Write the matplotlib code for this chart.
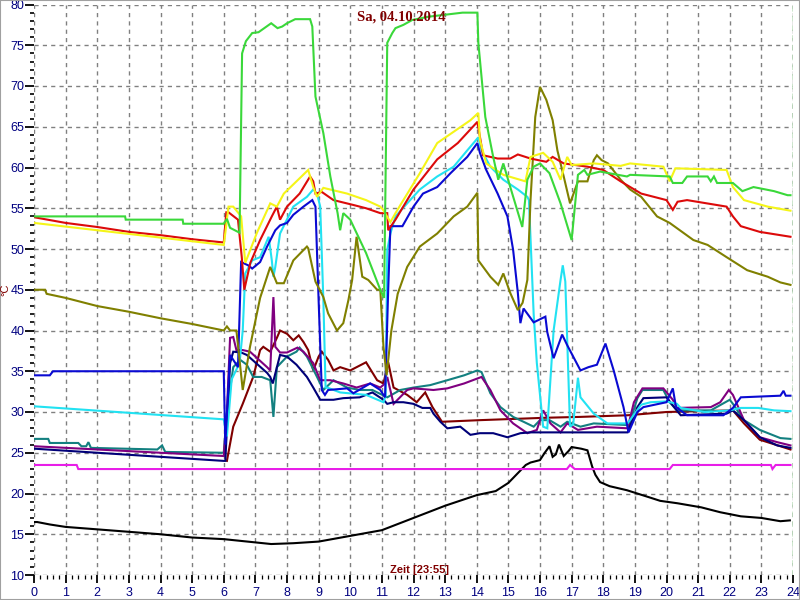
import matplotlib
matplotlib.use("Agg")
import matplotlib.pyplot as plt
from matplotlib.patches import Rectangle

# (hour, temperature) pairs
green = [(0, 54), (2.88, 54), (2.9, 53.6), (4.7, 53.6), (4.72, 53.1), (6.0, 53.1), (6.1, 53.7),
         (6.2, 52.6), (6.5, 52), (6.58, 74), (6.7, 75.5), (6.9, 76.5), (7.1, 76.6), (7.5, 77.7),
         (7.7, 77.1), (7.85, 77.3), (8.0, 77.7), (8.26, 78.2), (8.73, 78.2), (8.8, 77.3), (8.9, 68.7),
         (9.15, 64.2), (9.37, 58.9), (9.6, 54.4), (9.68, 52.3), (9.78, 54.4), (10.0, 53.6), (10.5, 49.5),
         (10.95, 45), (11.07, 44), (11.17, 75.3), (11.33, 76.5), (11.43, 77.1), (11.68, 77.5),
         (11.96, 78.1), (12.47, 78.5), (13.55, 79), (14.02, 79), (14.05, 75.3), (14.27, 66.2),
         (14.52, 61.3), (14.68, 58.5), (14.84, 60.5), (15.06, 57.6), (15.44, 52.7), (15.6, 58.5),
         (15.8, 60.1), (16.0, 60.5), (16.3, 59.3), (16.65, 55.6), (17.0, 51.1), (17.2, 59.1),
         (17.4, 59.7), (17.5, 59.1), (17.9, 59.5), (18.75, 58.9), (18.85, 59.1), (20.1, 58.9),
         (20.2, 58.1), (20.5, 58.1), (20.65, 58.9), (21.3, 58.9), (21.4, 58.3), (21.5, 58.9),
         (21.6, 58.1), (22.1, 58.1), (22.4, 57.1), (22.75, 57.6), (23.4, 57.1), (23.83, 56.6), (23.92, 56.6)]

yellow = [(0, 53.2), (6.0, 50.5), (6.05, 52), (6.15, 55.2), (6.3, 55.2), (6.55, 54), (6.68, 48.3),
          (7.05, 52), (7.47, 55.6), (7.68, 55.2), (7.9, 56.8), (8.3, 58.3), (8.67, 59.7), (8.83, 57.6),
          (8.95, 56.4), (9.15, 57.5), (9.9, 56.8), (10.5, 56), (10.95, 55.2), (11.04, 54.8),
          (11.27, 53.3), (11.43, 54.4), (11.68, 56), (12.2, 59.3), (12.75, 63), (13.2, 64.2),
          (13.8, 65.8), (14.05, 66.7), (14.1, 63.4), (14.3, 60.5), (14.84, 59.1), (15.54, 58.3),
          (15.7, 61.3), (16.1, 61.8), (16.4, 60.7), (16.65, 58.5), (16.86, 61.3), (17.0, 60.3),
          (17.7, 60.5), (18.55, 60.2), (18.85, 60.5), (19.9, 60.1), (20.1, 58.3), (20.28, 59.9),
          (21.9, 59.7), (22.1, 57.6), (22.45, 56), (23.2, 55.2), (23.92, 54.7)]

red = [(0, 53.9), (1, 53.2), (2, 52.7), (3, 52.1), (4, 51.7), (5, 51.2), (6.0, 50.8), (6.08, 54.5),
       (6.15, 54.5), (6.45, 53.6), (6.57, 49), (6.65, 45), (6.84, 48.3), (7.15, 51.1), (7.52, 54),
       (7.68, 55.2), (7.78, 53.6), (8.0, 55.2), (8.4, 56.8), (8.73, 58.9), (8.83, 58.3), (8.9, 56.8),
       (9.1, 57), (9.47, 56), (10.1, 55.4), (10.5, 55), (10.95, 54.4), (11.17, 54.4), (11.2, 52.3),
       (11.43, 53.6), (12.0, 57.3), (12.75, 61), (13.4, 63), (14.02, 65.6), (14.2, 61.5),
       (14.66, 61.1), (15.06, 61.1), (15.3, 61.6), (15.7, 61.1), (16.2, 60.7), (16.4, 61.3),
       (16.75, 60.5), (17.5, 60.1), (18.0, 59.7), (18.55, 58.3), (19.2, 56.8), (19.8, 56.2),
       (20.0, 56), (20.2, 54.8), (20.35, 55.8), (20.65, 56), (21.9, 55.2), (22.1, 54), (22.35, 52.8),
       (22.95, 52.1), (23.92, 51.5)]

olive = [(0, 45), (0.35, 45), (0.4, 44.5), (1.0, 44), (2.0, 43), (3.0, 42.3), (4.0, 41.5), (5.0, 40.8),
         (6.0, 40), (6.1, 40.5), (6.2, 40), (6.4, 40), (6.6, 32.7), (6.83, 38), (7.15, 44), (7.47, 47.8),
         (7.68, 45.8), (7.9, 45.8), (8.2, 48.6), (8.63, 50.3), (8.67, 50.1), (8.9, 46), (9.15, 44.1),
         (9.3, 42.1), (9.58, 40), (9.78, 40.9), (9.94, 43.7), (10.06, 46.2), (10.2, 51.5), (10.38, 46.6),
         (10.57, 46.2), (10.85, 45), (10.95, 45), (11.05, 38), (11.15, 34.5), (11.3, 40), (11.5, 44.5),
         (11.8, 47.8), (12.2, 50.3), (12.75, 51.9), (13.27, 54), (13.7, 55.2), (14.02, 56.9),
         (14.05, 48.6), (14.43, 46.6), (14.68, 45.6), (14.84, 47), (15.06, 44.6), (15.3, 42.5),
         (15.45, 43.4), (15.6, 46.2), (15.7, 56), (15.85, 66.2), (16.0, 69.9), (16.2, 68.3),
         (16.4, 65.8), (16.55, 62.1), (16.75, 58.9), (16.95, 55.6), (17.2, 58.3), (17.5, 58.3),
         (17.7, 60.9), (17.8, 61.5), (17.95, 60.9), (18.15, 60.5), (18.55, 58.5), (18.85, 57.3),
         (19.2, 56.4), (19.7, 54), (20.1, 53.2), (20.85, 51.1), (21.3, 50.5), (21.9, 49), (22.55, 47.4),
         (23.2, 46.6), (23.6, 45.9), (23.92, 45.6)]

blue = [(0, 34.5), (0.5, 34.5), (0.6, 35), (6.0, 35), (6.05, 26), (6.2, 37), (6.45, 35.5), (6.55, 48.4),
        (6.77, 48), (6.9, 47.6), (7.15, 48.4), (7.37, 50.3), (7.63, 52.3), (7.78, 52.9), (8.0, 53.2),
        (8.2, 54.2), (8.52, 55.2), (8.8, 56), (8.9, 55.2), (9.0, 43.7), (9.1, 32.7), (9.2, 32.1),
        (9.3, 32.7), (9.9, 32.9), (10.1, 32.3), (10.63, 33.5), (10.95, 32.7), (11.1, 31.8), (11.2, 45),
        (11.27, 52.8), (11.65, 52.8), (12.0, 55.2), (12.3, 56.8), (12.75, 57.6), (13.17, 59.3),
        (13.7, 61.3), (14.02, 63), (14.1, 61.8), (14.3, 59.7), (14.66, 56.8), (14.97, 54),
        (15.15, 49.9), (15.3, 44.6), (15.38, 40.9), (15.48, 42.7), (15.8, 41), (16.17, 41.7),
        (16.23, 39.8), (16.43, 36.6), (16.7, 39.5), (16.86, 38.2), (17.28, 35.1), (17.53, 35.5),
        (17.8, 35.8), (18.07, 38.4), (18.33, 35.1), (18.64, 30.6), (18.8, 27.5), (19.08, 30),
        (19.27, 30.6), (20.0, 31.2), (20.2, 32.9), (20.3, 30.6), (20.65, 29.6), (21.4, 29.6),
        (21.8, 29.6), (22.1, 30.5), (22.35, 31.8), (23.6, 32), (23.7, 32.6), (23.77, 32), (23.92, 32)]

cyan = [(0, 30.7), (6.0, 29.1), (6.1, 27), (6.25, 34), (6.5, 36), (6.6, 40), (6.68, 47), (6.9, 48.6),
        (7.15, 49), (7.42, 51.5), (7.52, 48.6), (7.57, 46.6), (7.63, 47.8), (7.78, 51.9), (8.2, 55.2),
        (8.63, 56.4), (8.83, 57.3), (8.95, 56.8), (9.05, 55.2), (9.15, 43.7), (9.22, 33), (9.27, 33),
        (9.68, 32.4), (10.5, 32.1), (11.05, 31.2), (11.12, 32), (11.17, 49.9), (11.27, 51.9),
        (11.43, 54), (11.8, 55.6), (12.2, 57.3), (12.75, 58.9), (13.27, 60.1), (13.7, 62.1),
        (14.05, 63.7), (14.15, 62.1), (14.43, 60.1), (14.84, 58.5), (15.3, 57.3), (15.6, 56.4),
        (15.65, 56), (15.8, 42), (15.9, 36), (16.1, 28.2), (16.23, 28), (16.43, 40), (16.65, 46.2),
        (16.72, 48), (16.8, 46), (16.95, 28.2), (17.05, 28.5), (17.2, 34.2), (17.28, 31.8),
        (17.7, 29.8), (18.13, 28.6), (18.77, 28.6), (19.2, 30.9), (19.5, 31.2), (20.0, 31.3),
        (20.33, 31), (20.45, 30.5), (21.2, 30), (22.0, 30.2), (22.35, 30.5), (22.9, 30.5),
        (23.4, 30.2), (23.92, 30.1)]

navy = [(0, 25.5), (2, 25), (4, 24.5), (6.0, 24), (6.05, 24), (6.2, 36), (6.3, 37.4), (6.55, 37.3),
        (6.73, 37), (7.37, 34.8), (7.47, 34.3), (7.55, 33.5), (7.78, 37), (8.0, 36.8), (8.3, 35.8),
        (8.63, 34.3), (8.83, 33), (9.05, 31.5), (9.47, 31.5), (9.78, 31.7), (10.3, 31.8), (10.7, 32.4),
        (11.05, 31.5), (11.17, 31), (11.37, 31.2), (11.68, 31.2), (12.0, 31), (12.28, 30.5),
        (12.53, 30.5), (12.63, 29.8), (12.85, 28.8), (13.07, 28), (13.48, 28.2), (13.8, 27.2),
        (14.1, 27.4), (14.52, 27.4), (14.97, 26.9), (15.38, 27.4), (15.7, 27.5), (18.77, 27.5),
        (19.08, 30.6), (19.27, 31.7), (20.0, 31.8), (20.2, 30.8), (20.45, 29.6), (21.9, 29.8),
        (22.1, 30.2), (22.45, 29), (22.95, 26.9), (23.5, 25.9), (23.92, 25.6)]

purple = [(0, 25.8), (2, 25.4), (4, 25), (6.0, 24.6), (6.1, 30), (6.2, 39.1), (6.3, 39.2), (6.4, 37.6),
          (6.6, 37.6), (6.83, 37.4), (7.37, 35.5), (7.47, 35.1), (7.57, 44.1), (7.63, 38), (7.78, 37.3),
          (8.0, 37.3), (8.33, 37.9), (8.52, 37.4), (8.83, 36), (9.05, 33.9), (9.37, 33.9), (9.78, 33.5),
          (10.2, 33), (10.63, 33.5), (10.95, 33), (11.1, 33.5), (11.17, 34.3), (11.37, 31), (11.8, 32.7),
          (12.0, 32.9), (12.63, 32.7), (13.07, 32.9), (13.6, 33.5), (14.15, 34.3), (14.43, 32.7),
          (14.75, 30.2), (15.15, 28.6), (15.6, 27.4), (15.9, 27.8), (16.1, 30.2), (16.33, 28.6),
          (16.65, 27.5), (16.86, 28.6), (17.2, 27.8), (17.8, 28.2), (18.77, 28), (18.97, 31.2),
          (19.24, 32.9), (19.9, 32.9), (20.2, 31.5), (20.33, 30.5), (21.4, 30.6), (21.7, 31.2),
          (21.97, 32.7), (22.1, 32.1), (22.45, 29), (22.95, 26.9), (23.5, 26.3), (23.92, 25.9)]

teal = [(0, 26.7), (0.45, 26.7), (0.5, 26.2), (1.4, 26.2), (1.5, 25.8), (1.65, 25.8), (1.72, 26.3),
        (1.8, 25.6), (3.9, 25.4), (4.05, 25.9), (4.15, 25.1), (6.0, 25), (6.1, 30), (6.3, 35.5),
        (6.52, 36.4), (6.73, 35.8), (6.93, 34.3), (7.2, 34.3), (7.47, 33.9), (7.57, 29.4), (7.68, 35.5),
        (8.0, 36.8), (8.3, 37.4), (8.4, 37.9), (8.63, 36.8), (8.95, 34.3), (9.15, 32.7), (9.47, 33.9),
        (9.9, 33), (10.3, 32.7), (10.7, 32.7), (11.17, 31.8), (11.58, 32.7), (12.0, 33), (12.53, 33.3),
        (13.07, 33.9), (13.6, 34.5), (14.02, 35.1), (14.15, 34.9), (14.43, 32.3), (14.75, 30.6),
        (15.15, 29.4), (15.48, 28.8), (15.8, 28.2), (16.0, 29), (16.3, 29), (16.65, 28.2),
        (16.86, 28.8), (17.28, 28.2), (17.7, 28.6), (18.77, 28.4), (18.8, 28.2), (19.08, 31.7),
        (19.24, 32.7), (19.9, 32.7), (20.1, 31.2), (20.33, 30.2), (21.4, 30.2), (22.0, 31.5),
        (22.1, 31), (22.45, 29), (22.95, 27.8), (23.6, 26.8), (23.92, 26.7)]

maroon = [(6.1, 24), (6.3, 28.2), (6.6, 31), (6.93, 34.3), (7.15, 37.6), (7.25, 38), (7.47, 37.4),
          (7.68, 39.1), (7.78, 40), (8.0, 39.6), (8.2, 38.8), (8.37, 39.4), (8.52, 38.6), (8.67, 37.6),
          (8.83, 35.1), (9.0, 36.8), (9.1, 37.4), (9.3, 36.4), (9.47, 35.1), (9.68, 35.5), (10.0, 35.1),
          (10.5, 36.1), (10.85, 33.9), (11.05, 33.5), (11.2, 36.1), (11.37, 33), (11.8, 32.1),
          (12.1, 31.2), (12.37, 32.4), (12.6, 30.6), (12.9, 28.8), (14.1, 29), (16.23, 29.3),
          (17.28, 29.4), (18.77, 29.6), (20.0, 30), (22.1, 30.2), (22.45, 28.6), (22.95, 26.6),
          (23.6, 25.8), (23.92, 25.4)]

magenta = [(0, 23.5), (1.35, 23.5), (1.4, 23), (16.85, 23), (16.95, 23.5), (17.1, 23), (20.1, 23),
           (20.2, 23.5), (23.3, 23.5), (23.35, 23), (23.45, 23.5), (23.92, 23.5)]

black = [(0, 16.5), (0.1, 16.5), (0.5, 16.2), (1, 15.9), (2, 15.6), (3, 15.3), (4, 15.0), (5, 14.6),
         (6, 14.4), (7, 14.0), (7.5, 13.8), (8.2, 13.9), (9, 14.1), (10, 14.8), (11, 15.5), (12, 17),
         (13, 18.5), (14, 19.8), (14.6, 20.3), (15, 21.3), (15.4, 22.9), (15.55, 23.5), (15.7, 23.8),
         (16, 24.1), (16.15, 25), (16.3, 25.8), (16.4, 24.5), (16.5, 24.8), (16.6, 26), (16.75, 24.6),
         (16.9, 25.2), (17.0, 25.7), (17.3, 25.5), (17.5, 25.3), (17.65, 23.3), (17.75, 22.3),
         (17.9, 21.4), (18.2, 20.9), (18.75, 20.4), (19.4, 19.6), (19.8, 19.1), (20.35, 18.8),
         (21.1, 18.3), (21.7, 17.7), (22.35, 17.2), (23.0, 17), (23.6, 16.6), (23.9, 16.7)]

series = [
    (black, 'black'), (magenta, '#e81ee8'), (maroon, '#800000'), (teal, '#138080'),
    (purple, '#800080'), (navy, '#000078'), (cyan, '#22e2f2'), (blue, '#0a0ad2'),
    (olive, '#808000'), (red, '#dc0a0a'), (yellow, '#f5f518'), (green, '#3ad83a'),
]

title = "Sa, 04.10.2014"
xlabel = "Zeit [23:55]"
ylabel = "°C"

fig = plt.figure(figsize=(8, 6), dpi=100)
ax = fig.add_axes([34 / 800, 25 / 600, 759 / 800, 570.5 / 600])

for data, col in series:
    t, v = zip(*data)
    ax.plot(t, v, color=col, lw=1.5, solid_joinstyle='miter')

# end-of-day marker
ax.axvline(24, color='#008000', ls=(0, (4, 3)), lw=1)

ax.set_xlim(0, 24)
ax.set_ylim(10, 80)
ax.set_xticks(range(0, 25))
ax.set_xticks([i / 5 for i in range(0, 121)], minor=True)
ax.set_yticks(range(10, 81, 5))
ax.set_yticks(range(10, 81), minor=True)
ax.grid(True, which='major', color='#808080', ls=(0, (3, 3)), lw=1)
ax.set_axisbelow(True)
for s in ax.spines.values():
    s.set_visible(False)

ax.tick_params(axis='both', which='major', length=6.5, width=1.3, color='black',
               labelcolor='#000080', labelsize=9)
ax.tick_params(axis='both', which='minor', length=3, width=1.2, color='black')
ax.tick_params(axis='y', which='major', pad=0.5)
ax.tick_params(axis='x', which='major', length=5.5, pad=3)
ax.tick_params(axis='x', which='minor', length=3, width=0.9)
for lab in ax.get_xticklabels() + ax.get_yticklabels():
    lab.set_fontfamily('Liberation Sans')

fig.text(401 / 800, 1 - 17 / 600, title, ha='center', va='center', color='#800000',
         fontsize=10.5, fontweight='bold', family='Liberation Serif')
fig.text(419 / 800, 1 - 570 / 600, xlabel, ha='center', va='center', color='#800000',
         fontsize=8, fontweight='bold', family='Liberation Sans')
fig.text(5 / 800, 1 - 290 / 600, ylabel, ha='center', va='center', color='#800000',
         fontsize=8, rotation=90, family='Liberation Sans')

fig.patches.append(Rectangle((0, 0), 1, 1, transform=fig.transFigure, fill=False,
                             edgecolor='#a0a0a0', lw=1.5))

fig.savefig('out.png', dpi=100)
